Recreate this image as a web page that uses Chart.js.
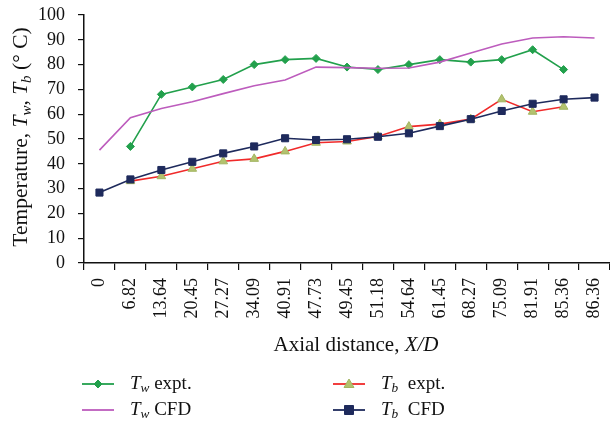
<!DOCTYPE html>
<html>
<head>
<meta charset="utf-8">
<script src="https://cdn.jsdelivr.net/npm/chart.js@4.4.0/dist/chart.umd.min.js"></script>
<style>
  html, body { margin: 0; padding: 0; background: #fff; }
  #wrap { width: 610px; height: 421px; position: relative; }
</style>
</head>
<body>
<div id="wrap"><canvas id="chart"></canvas></div>
<script>
const labels = ['0', '6.82', '13.64', '20.45', '27.27', '34.09', '40.91', '47.73', '49.45',
  '51.18', '54.64', '61.45', '68.27', '75.09', '81.91', '85.36', '86.36'];
const twExpt = [null, 47, 68, 71, 74, 80, 82, 82.5, 79, 78, 80, 82, 81, 82, 86, 78, null];
const twCfd = [45.5, 58.6, 62.3, 65, 68.3, 71.5, 73.8, 79, 78.8, 78.5, 78.6, 81, 84.7, 88.3, 90.7, 91.2, 90.7];
const tbExpt = [null, 33, 35, 38, 41, 42, 45, 48.5, 49, 51, 55, 56, 58, 66, 61, 63, null];
const tbCfd = [28.4, 33.7, 37.5, 40.8, 44.2, 47, 50.3, 49.6, 49.9, 50.9, 52.3, 55.2, 58, 61.3, 64.2, 66, 66.7];
const yTicks = [0, 10, 20, 30, 40, 50, 60, 70, 80, 90, 100];

const SERIF = '"Liberation Serif", "Times New Roman", serif';
const GREEN = '#22a04c';
const MAGENTA = '#bd5cbd';
const RED = '#f02a2a';
const NAVY = '#1e2a5c';
const OLIVE = '#b3c26e';

// draw a run of text pieces: {t, it, sub}
function richWidth(ctx, runs, size) {
  let w = 0;
  runs.forEach(r => {
    const s = r.sub ? size * 0.7 : size;
    ctx.font = (r.it ? 'italic ' : '') + s + 'px ' + SERIF;
    w += ctx.measureText(r.t).width;
  });
  return w;
}
function drawRich(ctx, runs, x, y, size, align) {
  let cx = align === 'center' ? x - richWidth(ctx, runs, size) / 2 : x;
  ctx.textAlign = 'left';
  ctx.textBaseline = 'alphabetic';
  ctx.fillStyle = '#111';
  runs.forEach(r => {
    const s = r.sub ? size * 0.7 : size;
    ctx.font = (r.it ? 'italic ' : '') + s + 'px ' + SERIF;
    ctx.fillText(r.t, cx, r.sub ? y + size * 0.17 : y);
    cx += ctx.measureText(r.t).width;
  });
}

function marker(ctx, style, x, y, fill, stroke) {
  ctx.save();
  ctx.fillStyle = fill;
  ctx.strokeStyle = stroke;
  ctx.lineWidth = 1;
  ctx.beginPath();
  if (style === 'rectRot') {
    ctx.moveTo(x, y - 4); ctx.lineTo(x + 4, y); ctx.lineTo(x, y + 4); ctx.lineTo(x - 4, y);
  } else if (style === 'triangle') {
    ctx.moveTo(x, y - 5); ctx.lineTo(x + 5, y + 3.5); ctx.lineTo(x - 5, y + 3.5);
  } else if (style === 'rect') {
    ctx.rect(x - 4.5, y - 4.5, 9, 9);
  }
  ctx.closePath();
  ctx.fill();
  ctx.stroke();
  ctx.restore();
}

const titles = {
  id: 'titles',
  afterDraw(chart) {
    const ctx = chart.ctx;
    ctx.save();
    drawRich(ctx, [{ t: 'Axial distance, ' }, { t: 'X/D', it: true }], 356, 351, 21, 'center');
    ctx.translate(27, 137);
    ctx.rotate(-Math.PI / 2);
    drawRich(ctx, [{ t: 'Temperature, ' }, { t: 'T', it: true }, { t: 'w', it: true, sub: true },
      { t: ', ' }, { t: 'T', it: true }, { t: 'b', it: true, sub: true }, { t: ' (° C)' }], 0, 0, 21.5, 'center');
    ctx.restore();

    // legend
    const items = [
      { x: 82, y: 384, color: GREEN, mk: 'rectRot', fill: GREEN, runs: [{ t: 'T', it: true }, { t: 'w', it: true, sub: true }, { t: ' expt.' }] },
      { x: 82, y: 410, color: MAGENTA, mk: null, runs: [{ t: 'T', it: true }, { t: 'w', it: true, sub: true }, { t: ' CFD' }] },
      { x: 333, y: 384, color: RED, mk: 'triangle', fill: OLIVE, runs: [{ t: 'T', it: true }, { t: 'b', it: true, sub: true }, { t: '  expt.' }] },
      { x: 333, y: 410, color: NAVY, mk: 'rect', fill: NAVY, runs: [{ t: 'T', it: true }, { t: 'b', it: true, sub: true }, { t: '  CFD' }] }
    ];
    items.forEach(it => {
      ctx.save();
      ctx.strokeStyle = it.color;
      ctx.lineWidth = 1.8;
      ctx.beginPath();
      ctx.moveTo(it.x, it.y);
      ctx.lineTo(it.x + 32, it.y);
      ctx.stroke();
      ctx.restore();
      if (it.mk) marker(ctx, it.mk, it.x + 16, it.y, it.fill, it.mk === 'triangle' ? '#a3b562' : it.fill);
      drawRich(ctx, it.runs, it.x + 48, it.y + 5, 19, 'left');
    });
  }
};

new Chart(document.getElementById('chart').getContext('2d'), {
  type: 'line',
  data: {
    labels: labels,
    datasets: [
      {
        label: 'Tw expt.', data: twExpt, order: 3,
        borderColor: GREEN, backgroundColor: GREEN, borderWidth: 1.6,
        pointStyle: 'rectRot', pointRadius: 4, pointBorderWidth: 1
      },
      {
        label: 'Tw CFD', data: twCfd, order: 2,
        borderColor: MAGENTA, backgroundColor: MAGENTA, borderWidth: 1.6,
        pointRadius: 0
      },
      {
        label: 'Tb expt.', data: tbExpt, order: 1,
        borderColor: RED, backgroundColor: OLIVE, borderWidth: 1.6,
        pointStyle: 'triangle', pointRadius: 5, pointBorderColor: '#a3b562', pointBorderWidth: 1
      },
      {
        label: 'Tb CFD', data: tbCfd, order: 0,
        borderColor: NAVY, backgroundColor: NAVY, borderWidth: 1.6,
        pointStyle: 'rect', pointRadius: 5, pointBorderWidth: 1
      }
    ]
  },
  options: {
    responsive: true,
    maintainAspectRatio: false,
    animation: false,
    layout: { autoPadding: false, padding: { top: 15, left: 0, right: 0, bottom: 0 } },
    plugins: { legend: { display: false }, tooltip: { enabled: false } },
    elements: { line: { tension: 0 } },
    scales: {
      x: {
        offset: true,
        grid: { offset: true, drawOnChartArea: false, color: '#111', tickLength: 7, lineWidth: 1.2 },
        border: { color: '#111', width: 1.5 },
        ticks: { minRotation: 90, maxRotation: 90, autoSkip: false, padding: 8, color: '#111',
          font: { family: SERIF, size: 18 } },
        afterFit(scale) { scale.height = 158; scale.paddingLeft = 0; scale.paddingRight = 0; }
      },
      y: {
        min: 0, max: 100,
        afterBuildTicks(scale) { scale.ticks = yTicks.map(v => ({ value: v })); },
        grid: { drawOnChartArea: false, color: '#111', tickLength: 6, lineWidth: 1.2 },
        border: { color: '#111', width: 1.5 },
        ticks: { autoSkip: false, padding: 13, color: '#111', font: { family: SERIF, size: 18 } },
        afterFit(scale) { scale.width = 84; scale.paddingTop = 0; scale.paddingBottom = 0; }
      }
    }
  },
  plugins: [titles]
});
</script>
</body>
</html>
